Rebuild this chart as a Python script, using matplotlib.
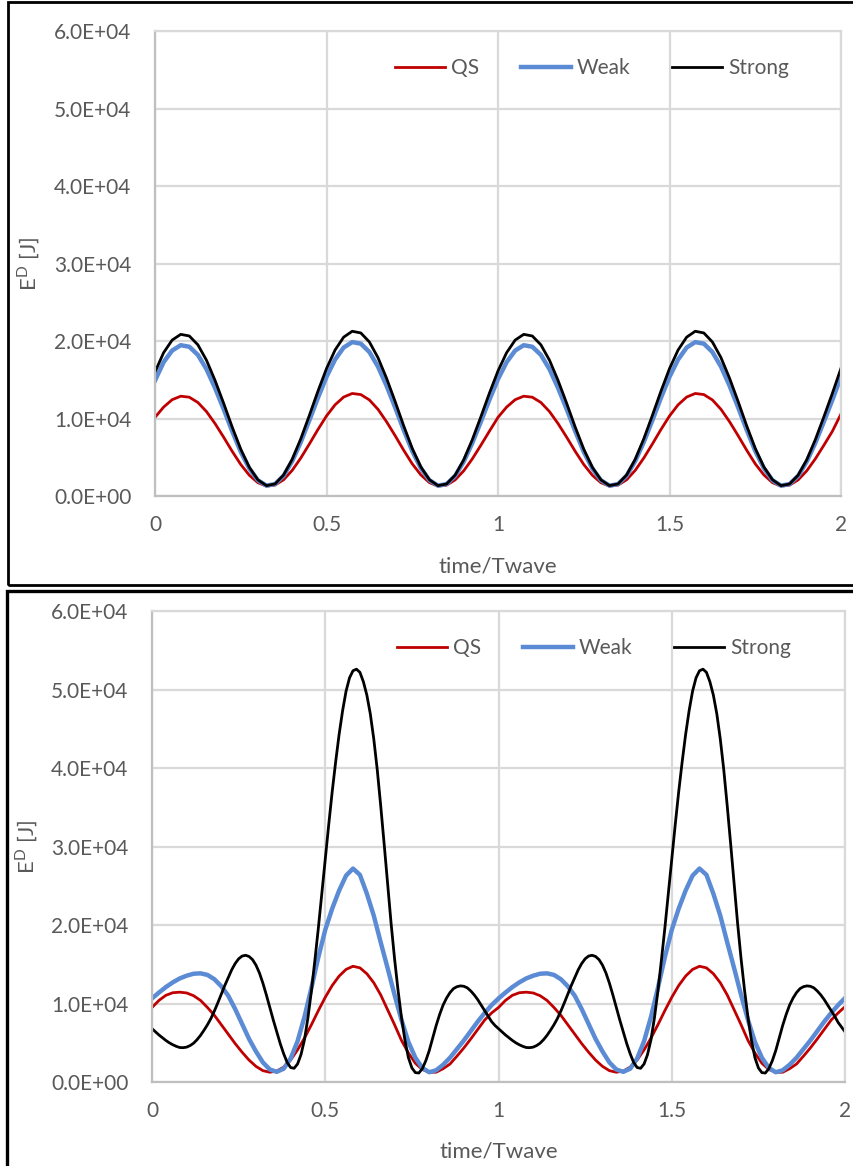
import numpy as np
import matplotlib.pyplot as plt
from matplotlib.patches import Rectangle
from matplotlib.ticker import FuncFormatter

# ---- data ----
# top panel, time/Twave step 0.025 (0 .. 2)
t_top = np.arange(81) * 0.025
qs_top = [10150, 11470, 12430, 12880, 12750, 12070, 10900, 9350, 7600, 5770, 4070, 2680, 1720, 1270, 1410, 2100, 3310, 4900, 6710, 8580,
          10330, 11770, 12770, 13230, 13090, 12400, 11190, 9590, 7790, 5910, 4150, 2730, 1730, 1270, 1400, 2080, 3250, 4790, 6550, 8370,
          10150, 11470, 12430, 12880, 12750, 12070, 10900, 9350, 7600, 5770, 4070, 2680, 1720, 1270, 1410, 2100, 3310, 4900, 6710, 8580,
          10330, 11770, 12770, 13230, 13090, 12400, 11190, 9590, 7790, 5910, 4150, 2730, 1730, 1270, 1400, 2080, 3250, 4790, 6550, 8370,
          10600]
weak_top = [14900, 17260, 18770, 19460, 19260, 18210, 16370, 13950, 11220, 8360, 5700, 3540, 2030, 1340, 1540, 2620, 4500, 6950, 9760, 12660,
            15380, 17610, 19160, 19860, 19660, 18580, 16700, 14230, 11440, 8520, 5800, 3590, 2040, 1340, 1540, 2590, 4430, 6830, 9580, 12420,
            15080, 17260, 18770, 19460, 19260, 18210, 16370, 13950, 11220, 8360, 5700, 3540, 2030, 1340, 1540, 2620, 4500, 6950, 9760, 12660,
            15380, 17610, 19160, 19860, 19660, 18580, 16700, 14230, 11440, 8520, 5800, 3590, 2040, 1340, 1540, 2590, 4430, 6830, 9580, 12420,
            15400]
strong_top = [16000, 18490, 20120, 20860, 20650, 19510, 17530, 14920, 11980, 8900, 6040, 3710, 2080, 1340, 1560, 2720, 4740, 7380, 10400, 13520,
              16440, 18840, 20500, 21260, 21040, 19880, 17860, 15200, 12200, 9060, 6140, 3760, 2100, 1340, 1550, 2690, 4670, 7260, 10220, 13280,
              16140, 18490, 20120, 20860, 20650, 19510, 17530, 14920, 11980, 8900, 6040, 3710, 2080, 1340, 1560, 2720, 4740, 7380, 10400, 13520,
              16440, 18840, 20500, 21260, 21040, 19880, 17860, 15200, 12200, 9060, 6140, 3760, 2100, 1340, 1550, 2690, 4670, 7260, 10220, 13280,
              16500]

# bottom panel, QS and Weak at time/Twave step 0.02 (0 .. 2)
t_bot = np.arange(101) * 0.02
qs_bot = [9500, 10400, 11050, 11380, 11450, 11350, 11000, 10400, 9500, 8500,
          7300, 6100, 4900, 3800, 2800, 2000, 1450, 1250, 1400, 1900,
          2800, 4100, 5600, 7300, 9100, 10800, 12300, 13500, 14350, 14750,
          14550, 13800, 12650, 11100, 9200, 7300, 5300, 3700, 2400, 1600,
          1250, 1250, 1700, 2300, 3300, 4350, 5500, 6700, 7900, 8800,
          9500, 10400, 11050, 11380, 11450, 11350, 11000, 10400, 9500, 8500,
          7300, 6100, 4900, 3800, 2800, 2000, 1450, 1250, 1400, 1900,
          2800, 4100, 5600, 7300, 9100, 10800, 12300, 13500, 14350, 14750,
          14550, 13800, 12650, 11100, 9200, 7300, 5300, 3700, 2400, 1600,
          1250, 1250, 1700, 2300, 3300, 4350, 5500, 6700, 7900, 8800,
          9600]
weak_bot = [10650, 11400, 12100, 12700, 13200, 13550, 13800, 13850, 13650, 13100,
            12200, 11000, 9300, 7400, 5500, 3900, 2500, 1600, 1300, 1700,
            3000, 5200, 8300, 12000, 15900, 19400, 22100, 24400, 26300, 27200,
            26400, 24000, 21200, 17800, 14500, 11100, 7900, 5100, 3100, 1800,
            1250, 1500, 2200, 3100, 4200, 5300, 6500, 7700, 8800, 9800,
            10650, 11400, 12100, 12700, 13200, 13550, 13800, 13850, 13650, 13100,
            12200, 11000, 9300, 7400, 5500, 3900, 2500, 1600, 1300, 1700,
            3000, 5200, 8300, 12000, 15900, 19400, 22100, 24400, 26300, 27200,
            26400, 24000, 21200, 17800, 14500, 11100, 7900, 5100, 3100, 1800,
            1250, 1500, 2200, 3100, 4200, 5300, 6500, 7700, 8800, 9800,
            10700]
# bottom panel, Strong at time/Twave step 0.01 (sharper peaks)
t_bot_fine = np.arange(201) * 0.01
strong_bot = [6800, 6400, 6000, 5650, 5300, 5000, 4750, 4550, 4400, 4380,
              4450, 4650, 4950, 5400, 5950, 6600, 7300, 8100, 9050, 10100,
              11200, 12300, 13300, 14300, 15100, 15700, 16050, 16150, 16000, 15600,
              14900, 13900, 12600, 11100, 9500, 7900, 6400, 4900, 3600, 2500,
              1850, 1750, 2300, 3500, 5400, 8200, 11600, 15500, 19600, 24000,
              28400, 32800, 37000, 40800, 44300, 47300, 49800, 51500, 52400, 52600,
              52200, 51000, 49300, 46900, 43700, 39800, 35200, 30300, 25200, 20200,
              15700, 11700, 8200, 5300, 3100, 1800, 1200, 1150, 1700, 2700,
              4000, 5600, 7200, 8600, 9800, 10700, 11400, 11900, 12150, 12250,
              12200, 12000, 11600, 11100, 10500, 9800, 9100, 8400, 7700, 7200,
              6800, 6400, 6000, 5650, 5300, 5000, 4750, 4550, 4400, 4380,
              4450, 4650, 4950, 5400, 5950, 6600, 7300, 8100, 9050, 10100,
              11200, 12300, 13300, 14300, 15100, 15700, 16050, 16150, 16000, 15600,
              14900, 13900, 12600, 11100, 9500, 7900, 6400, 4900, 3600, 2500,
              1850, 1750, 2300, 3500, 5400, 8200, 11600, 15500, 19600, 24000,
              28400, 32800, 37000, 40800, 44300, 47300, 49800, 51500, 52400, 52600,
              52200, 51000, 49300, 46900, 43700, 39800, 35200, 30300, 25200, 20200,
              15700, 11700, 8200, 5300, 3100, 1800, 1200, 1150, 1700, 2700,
              4000, 5600, 7200, 8600, 9800, 10700, 11400, 11900, 12150, 12250,
              12200, 12000, 11600, 11100, 10500, 9800, 9100, 8400, 7600, 7000,
              6400]

series_names = ["QS", "Weak", "Strong"]
x_ticks = [0, 0.5, 1, 1.5, 2]
y_ticks = [0, 10000, 20000, 30000, 40000, 50000, 60000]

plt.rcParams['font.family'] = ['Lato', 'DejaVu Sans']
txt_color = '#595959'
grid_color = '#D9D9D9'

fig = plt.figure(figsize=(8.54, 11.66), dpi=100)


def draw_panel(ax, t, qs, weak, t_strong, strong, leg_xy):
    ax.plot(t, qs, color='#C00000', lw=2.0, label=series_names[0], solid_joinstyle='round')
    ax.plot(t, weak, color='#5B8BD4', lw=3.2, label=series_names[1], solid_joinstyle='round')
    ax.plot(t_strong, strong, color='black', lw=2.0, label=series_names[2], solid_joinstyle='round')
    ax.set_xlim(0, 2)
    ax.set_ylim(0, 60000)
    ax.set_xticks(x_ticks)
    ax.set_yticks(y_ticks)
    ax.xaxis.set_major_formatter(FuncFormatter(lambda v, p: f'{v:g}'))
    ax.yaxis.set_major_formatter(FuncFormatter(lambda v, p: f'{v:.1E}'))
    ax.grid(True, color=grid_color, lw=1.6)
    ax.set_axisbelow(True)
    for s in ax.spines.values():
        s.set_color(grid_color)
        s.set_linewidth(1.6)
    ax.spines['bottom'].set_color('#BFBFBF')
    ax.spines['left'].set_color('#BFBFBF')
    ax.tick_params(length=0, labelsize=15, colors=txt_color)
    ax.tick_params(axis='y', pad=17)
    ax.tick_params(axis='x', pad=14)
    ax.set_xlabel('time/Twave', fontsize=16, color=txt_color)
    ax.set_ylabel(r'E$^{\mathregular{D}}$ [J]', fontsize=16, color=txt_color)
    ax.legend(loc='center', bbox_to_anchor=leg_xy, ncol=3, frameon=False,
              fontsize=15, handlelength=2.4, handletextpad=0.3,
              columnspacing=2.0, labelcolor=txt_color)


ax1 = fig.add_axes([0.1815, 0.5746, 0.8033, 0.3988])
draw_panel(ax1, t_top, qs_top, weak_top, t_top, strong_top, (0.637, 0.92))
ax1.xaxis.set_label_coords(0.5, -0.131)
ax1.yaxis.set_label_coords(-0.165, 0.5)

ax2 = fig.add_axes([0.178, 0.0720, 0.8115, 0.4039])
draw_panel(ax2, t_bot, qs_bot, weak_bot, t_bot_fine, strong_bot, (0.638, 0.921))
ax2.xaxis.set_label_coords(0.5, -0.127)
ax2.yaxis.set_label_coords(-0.162, 0.5)

# black frames around each panel
fig.add_artist(Rectangle((8 / 854, 1 - 585 / 1166), 1.0, 585 / 1166 - 0.0015,
                         transform=fig.transFigure, fill=False, lw=2.0, ec='black'))
fig.add_artist(Rectangle((7 / 854, -0.01), 1.0, 1 - 591 / 1166 + 0.01,
                         transform=fig.transFigure, fill=False, lw=2.4, ec='black'))

fig.savefig('out.png', dpi=100)
